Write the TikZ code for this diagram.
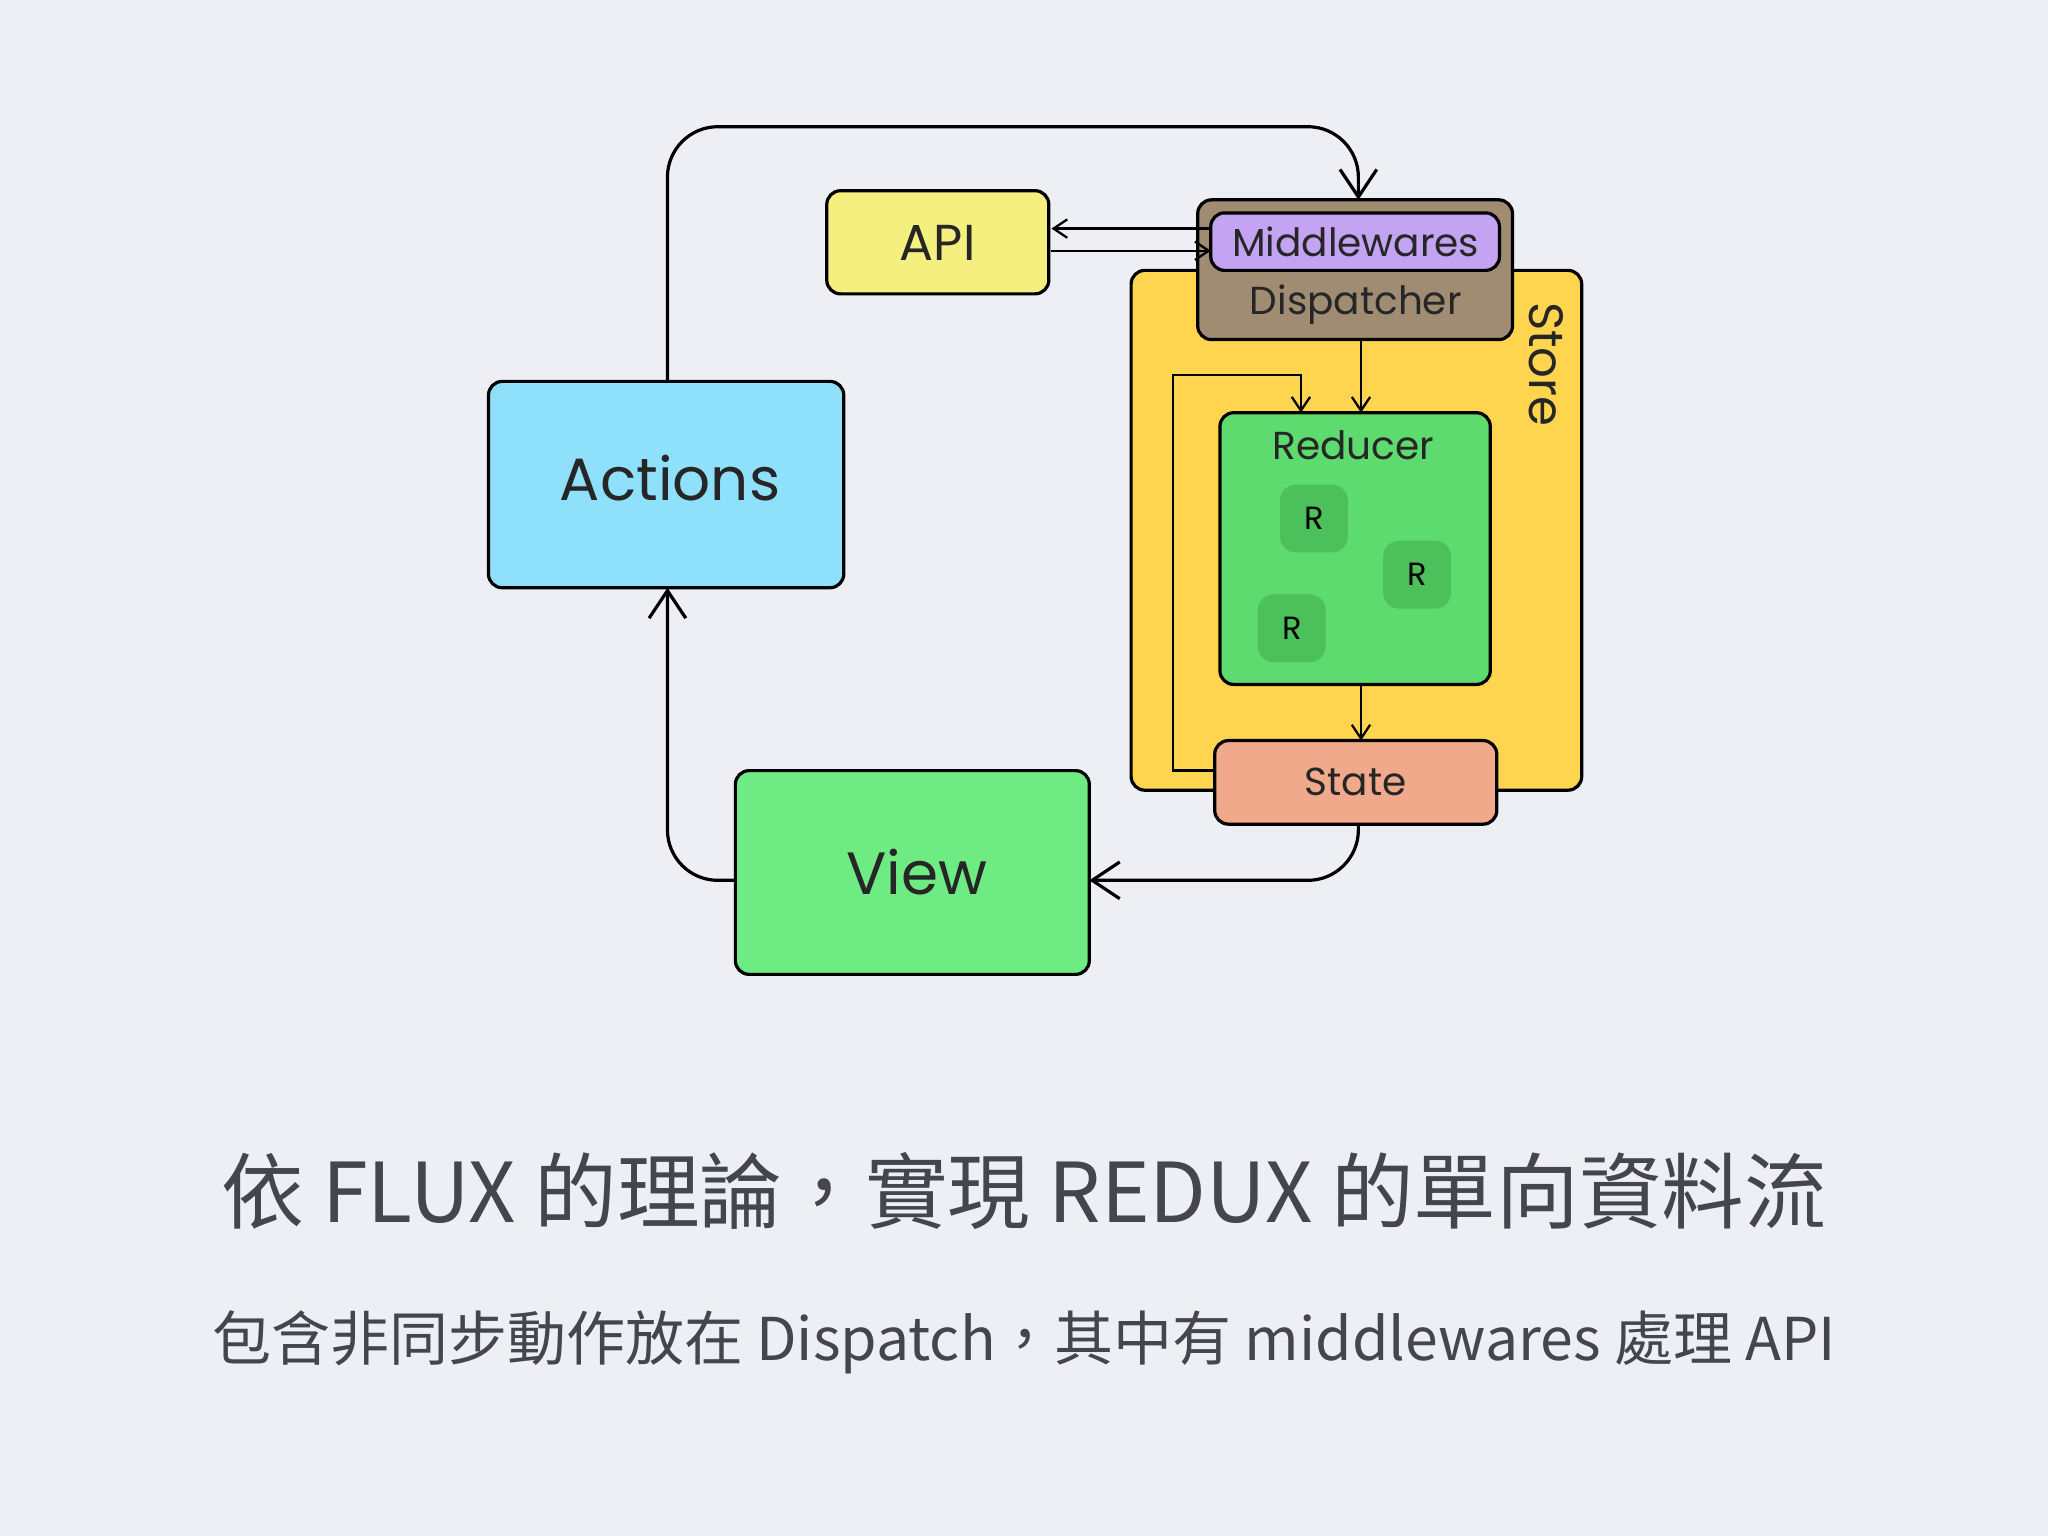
\documentclass[tikz,border=0pt]{standalone}
\usepackage{fontspec}
\setmainfont{Poppins}
\newfontfamily\cjk{Noto Sans CJK TC}[Scale=1]
\usetikzlibrary{arrows.meta,backgrounds}
\definecolor{bgc}{HTML}{EEEFF4}
\definecolor{apiY}{HTML}{F5EF80}
\definecolor{brown}{HTML}{A08C72}
\definecolor{lav}{HTML}{C3A3F2}
\definecolor{storeY}{HTML}{FFD54F}
\definecolor{redG}{HTML}{5EDB6E}
\definecolor{rG}{HTML}{4CC05A}
\definecolor{stateO}{HTML}{F0A98A}
\definecolor{actB}{HTML}{8FE0FA}
\definecolor{viewG}{HTML}{6EEB82}
\definecolor{txt}{HTML}{45454D}
\begin{document}
\begin{tikzpicture}[x=0.02cm,y=-0.02cm,
  box/.style={draw=black,line width=1.4pt,rounded corners=6pt},
  lbl/.style={font=\fontsize{17}{20}\selectfont,text=black!85},
  big/.style={-{Straight Barb[length=12pt,width=16pt,line width=1.4pt]},line width=1.4pt,rounded corners=22pt},
  sm/.style={-{Straight Barb[length=6pt,width=8pt]},line width=1pt}]
\fill[bgc] (0,0) rectangle (1568,1176);
\useasboundingbox (0,0) rectangle (1568,1176);
% store
\draw[box,fill=storeY] (866,207) rectangle (1211,605);
\node[lbl,rotate=-90,font=\fontsize{21}{24}\selectfont] (st) at (1184,279) {Store};
% dispatcher
\draw[box,fill=brown] (917,153) rectangle (1158,260);
\draw[box,fill=lav] (927,163) rectangle (1148,207);
\coordinate (mwT) at (1040,153);
\node[lbl] (mw) at (1038,185) {Middlewares};
\node[lbl] (disp) at (1038,233) {Dispatcher};
% reducer
\draw[box,fill=redG] (934,316) rectangle (1141,524);
\node[lbl] (red) at (1036,341) {Reducer};
\foreach \x/\y [count=\i] in {1006/397,1085/440,989/481}
  \node[fill=rG,rounded corners=7pt,inner sep=0,minimum size=1.04cm,
    font=\fontsize{14}{16}\selectfont] (r\i) at (\x,\y) {R};
% state
\draw[box,fill=stateO] (930,567) rectangle (1146,631);
\node[lbl] (state) at (1038,599) {State};
% API
\draw[box,fill=apiY] (633,146) rectangle (803,225);
\node[lbl,font=\fontsize{22}{26}\selectfont] (api) at (718,186) {API};
% actions / view
\draw[box,fill=actB] (374,292) rectangle (646,450);
\node[lbl,font=\fontsize{26}{30}\selectfont] (act) at (513,366) {Actions};
\draw[box,fill=viewG] (563,590) rectangle (834,746);
\node[lbl,font=\fontsize{26}{30}\selectfont] (view) at (702,668) {View};
% connectors
\coordinate (aT) at (511,292); \coordinate (aB) at (511,450);
\coordinate (vL) at (563,674); \coordinate (vR) at (834,674);
\coordinate (sB) at (1040,631);
\draw[big] (aT) -- (511,97) -- (1040,97) -- (mwT);
\draw[big] (sB) -- (1040,674) -- (vR);
\draw[big] (vL) -- (511,674) -- (aB);
\draw[sm] (927,175) -- (805,175);
\draw[sm] (805,192) -- (927,192);
\draw[sm] (1042,260) -- (1042,316);
\draw[sm] (1042,524) -- (1042,567);
\draw[sm] (930,590) -- (898,590) -- (898,287) -- (996,287) -- (996,316);
% captions
\node[text=txt,font=\cjk\fontsize{36}{40}\selectfont] (t1) at (784,912) {依 FLUX 的理論，實現 REDUX 的單向資料流};
\node[text=txt,font=\cjk\fontsize{25.7}{30}\selectfont] (t2) at (784,1028) {包含非同步動作放在 Dispatch，其中有 middlewares 處理 API};
\end{tikzpicture}
\end{document}
